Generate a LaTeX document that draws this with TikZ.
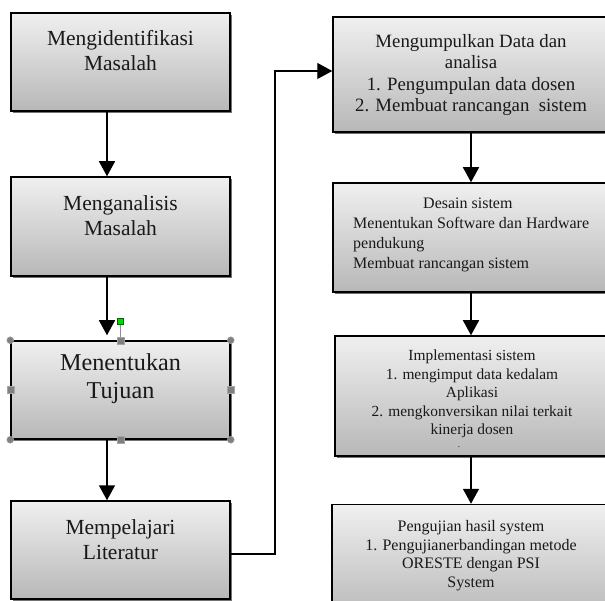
\documentclass[tikz,border=0pt]{standalone}
\usepackage{fontspec}
\setmainfont{Liberation Serif}
\usetikzlibrary{arrows.meta,shadows,calc}
\begin{document}
\begin{tikzpicture}[x=1pt,y=-1pt,
  box/.style={draw=black,line width=1.5pt,top color=black!6,bottom color=black!28,
    drop shadow={shadow xshift=1.6pt,shadow yshift=-2pt,fill=black!55,opacity=1},
    inner sep=0pt},
  lbox/.style={box,minimum width=219pt,minimum height=98pt},
  ltxt/.style={align=center,inner sep=0pt,text=black!90,font=\fontsize{21.5}{25}\selectfont},
  arr/.style={line width=1.5pt,-{Triangle[width=16pt,length=15pt]}},
  conn/.style={line width=1.2pt,-{Triangle[width=16pt,length=15pt]}},
  cornerh/.style={circle,fill=black!50,draw=black!35,line width=0.4pt,minimum size=7pt,inner sep=0pt},
  sideh/.style={rectangle,fill=black!50,draw=black!35,line width=0.4pt,minimum size=7pt,inner sep=0pt},
  greenh/.style={rectangle,fill=green!85!black,draw=green!40!black,line width=0.4pt,minimum size=6pt,inner sep=0pt}
]
\useasboundingbox (0,0) rectangle (605,601);
\clip (0,0) rectangle (605,601);
\fill[white] (0,0) rectangle (605,601);

\coordinate (lx) at (107,0);
\coordinate (rx) at (471,0);

% left column
\node[lbox] (b1) at (120.5,62) {};
\node[ltxt] (t1) at ([yshift=11.5pt]b1.center) {Mengidentifikasi\\Masalah};
\node[lbox,minimum height=99pt] (b2) at (120.5,226.5) {};
\node[ltxt] (t2) at ([yshift=10.5pt]b2.center) {Menganalisis\\Masalah};
\node[lbox] (b3) at (120.5,390) {};
\node[ltxt,font=\fontsize{24.2}{28}\selectfont] (t3) at ([yshift=11pt]b3.center) {Menentukan\\Tujuan};
\node[lbox] (b4) at (120.5,550) {};
\node[ltxt] (t4) at ([yshift=10pt]b4.center) {Mempelajari\\Literatur};

% right column
\node[box,minimum width=276pt,minimum height=115pt] (b5) at (471,74.5) {};
\node[align=center,inner sep=0pt,text=black!90,font=\fontsize{18.8}{21.5}\selectfont] (t5) at (471,75)
  {Mengumpulkan Data dan\\analisa\\1. Pengumpulan data dosen\\2. Membuat rancangan\ \ sistem};
\node[box,minimum width=276pt,minimum height=109pt] (b6) at (471,237.5) {};
\node[align=left,anchor=west,inner sep=0pt,text=black!90,font=\fontsize{16}{20}\selectfont] (t6) at (353,235)
  {\hspace*{70pt}Desain sistem\\Menentukan Software dan Hardware\\pendukung\\Membuat rancangan sistem};
\node[box,minimum width=274pt,minimum height=120pt] (b7) at (472,396) {};
\node[align=center,inner sep=0pt,text=black!90,font=\fontsize{15.4}{18.5}\selectfont] (t7) at (472,394)
  {Implementasi sistem\\1. mengimput data kedalam\\Aplikasi\\2. mengkonversikan nilai terkait\\kinerja dosen};
\node[inner sep=0pt,text=black!90,font=\fontsize{9}{9}\selectfont] (d7) at (459,447.5) {.};
\node[box,minimum width=278pt,minimum height=115pt] (b8) at (471,562) {};
\node[align=center,inner sep=0pt,text=black!90,font=\fontsize{16}{18.5}\selectfont] (t8) at (471,555.5)
  {Pengujian hasil system\\1. Pengujianerbandingan metode\\ORESTE dengan PSI\\System};

% arrows
\draw[arr] (b1.south -| lx) -- (b2.north -| lx);
\draw[arr,shorten >=5pt] (b2.south -| lx) -- (b3.north -| lx);
\draw[arr] (b3.south -| lx) -- (b4.north -| lx);
\draw[arr] (b5.south -| rx) -- (b6.north -| rx);
\draw[arr] (b6.south -| rx) -- (b7.north -| rx);
\draw[arr] (b7.south -| rx) -- (b8.north -| rx);

\coordinate (bend) at (275,71);
\draw[conn] ([yshift=-4pt]b4.east) -| (bend) -- ([yshift=3.5pt]b5.west);

% selection handles on b3
\coordinate (gh) at (120.5,321);
\draw[black!45,line width=0.6pt] (b3.north) -- (gh);
\node[greenh] (g) at (gh) {};
\node[cornerh] (h1) at (b3.north west) {};
\node[cornerh] (h2) at (b3.north east) {};
\node[cornerh] (h3) at (b3.south west) {};
\node[cornerh] (h4) at (b3.south east) {};
\node[sideh] (h5) at (b3.north) {};
\node[sideh] (h6) at (b3.south) {};
\node[sideh] (h7) at (b3.west) {};
\node[sideh] (h8) at (b3.east) {};
\end{tikzpicture}
\end{document}
